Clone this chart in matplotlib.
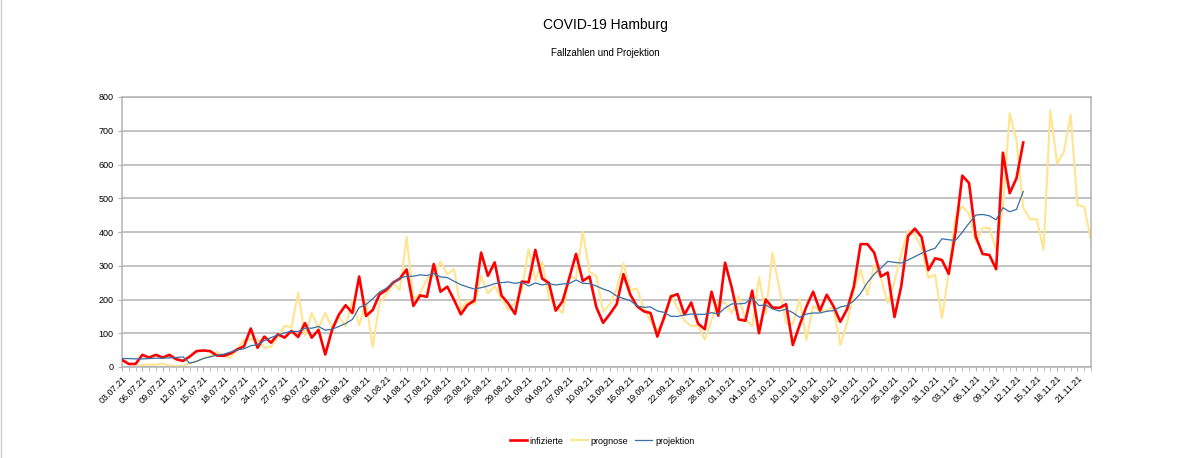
import numpy as np
import pandas as pd
import matplotlib
matplotlib.use("Agg")
from matplotlib import pyplot as plt

plt.rcParams['font.family'] = ['Liberation Sans', 'DejaVu Sans']

# Tage ab 03.07.21
dates = pd.date_range('2021-07-03', periods=144)
labels = [d.strftime('%d.%m.%y') for d in dates]

infizierte = [21, 9, 9, 36, 28, 36, 28, 36, 23, 18,
              31, 47, 49, 47, 34, 33, 40, 52, 61, 114,
              57, 90, 72, 97, 87, 107, 89, 130, 87, 110,
              37, 110, 155, 183, 160, 268, 151, 169, 215, 228,
              250, 262, 289, 181, 212, 208, 305, 223, 238, 199,
              156, 184, 197, 339, 270, 310, 212, 188, 157, 253,
              251, 347, 262, 249, 167, 194, 263, 335, 255, 268,
              177, 131, 157, 186, 275, 215, 180, 165, 160, 90,
              147, 209, 216, 155, 191, 129, 112, 223, 152, 309,
              234, 141, 137, 226, 100, 200, 176, 175, 186, 65,
              124, 179, 223, 167, 214, 180, 134, 171, 238, 364,
              364, 339, 268, 280, 148, 240, 388, 410, 385, 287,
              322, 317, 276, 400, 567, 545, 386, 335, 332, 290,
              635, 515, 559, 665]

prognose = [None, None, 0, 7, 7, 7, 10, 4, 3, 3,
            11, 16, 26, 33, 45, 33, 28, 52, 81, 82,
            82, 57, 60, 90, 122, 118, 221, 93, 160, 115,
            160, 116, 150, 120, 198, 124, 192, 60, 189, 215,
            248, 228, 386, 200, 218, 262, 272, 312, 275, 290,
            170, 197, 186, 269, 218, 240, 204, 168, 191, 228,
            349, 258, 312, 204, 180, 160, 266, 263, 401, 282,
            269, 164, 186, 232, 307, 228, 232, 174, 135, 110,
            139, 214, 174, 137, 122, 122, 81, 139, 194, 190,
            160, 210, 142, 121, 266, 157, 338, 233, 130, 127,
            201, 80, 181, 166, 168, 179, 65, 130, 228, 289,
            213, 303, 263, 190, 253, 337, 405, 392, 352, 264,
            274, 145, 280, 446, 476, 454, 371, 411, 412, 348,
            473, 752, 673, 472, 438, 438, 347, 761, 602, 638,
            747, 480, 475, 374]

projektion = [25, 25, 24, 24, 25, 26, 26, 27, 28, 30,
              11, 17, 25, 30, 35, 38, 44, 51, 54, 63,
              66, 78, 87, 95, 101, 106, 105, 115, 115, 120,
              109, 112, 120, 129, 141, 176, 185, 202, 222, 233,
              249, 263, 269, 269, 273, 271, 277, 267, 265, 254,
              244, 237, 231, 235, 240, 247, 250, 252, 248, 251,
              240, 249, 243, 247, 243, 246, 247, 258, 248, 247,
              240, 231, 224, 210, 203, 197, 181, 177, 178, 166,
              162, 150, 150, 154, 157, 156, 156, 161, 157, 175,
              187, 187, 189, 205, 182, 184, 172, 166, 171, 161,
              147, 157, 160, 160, 165, 167, 178, 182, 196, 218,
              250, 275, 293, 313, 310, 308, 317, 327, 337, 345,
              352, 380, 377, 375, 399, 426, 450, 452, 448, 436,
              472, 460, 467, 520]

x = np.arange(len(dates))
prog = np.array([np.nan if v is None else v for v in prognose], dtype=float)

fig = plt.figure(figsize=(12, 4.58), dpi=100)
ax = fig.add_axes([122/1200, 1-367/458, (1091-122)/1200, (367-97)/458])

grau = '#b3b3b3'
ax.plot(x[:len(infizierte)], infizierte, color='#ff0000', lw=1.9, label='infizierte', zorder=3)
ax.plot(x, prog, color='#ffe58f', lw=1.5, label='prognose', zorder=2)
ax.plot(x[:len(projektion)], projektion, color='#3a6ea5', lw=0.9, label='projektion', zorder=4)

ax.set_xlim(0, len(dates) - 1)
ax.set_ylim(0, 800)
ax.set_yticks(range(0, 801, 100))
ax.set_xticks(x[::3])
ax.set_xticks(x, minor=True)
ax.set_xticklabels(labels[::3], rotation=45, ha='right', rotation_mode='anchor', fontsize=6.5)
ax.tick_params(axis='y', labelsize=6.5, length=3, color=grau, pad=3)
ax.tick_params(axis='x', which='both', length=3, color=grau, pad=2)
ax.grid(axis='y', color=grau, lw=1.1)
ax.set_axisbelow(True)
for s in ax.spines.values():
    s.set_color(grau)
    s.set_linewidth(1.1)

fig.text(605/1200, 1-25/458, 'COVID-19 Hamburg', ha='center', va='center', fontsize=10)
fig.text(605/1200, 1-53/458, 'Fallzahlen und Projektion', ha='center', va='center', fontsize=7)

fig.legend(loc='center', bbox_to_anchor=(602/1200, 1-441/458), ncol=3, frameon=False,
           fontsize=6.5, handlelength=1.9, handletextpad=0.3, columnspacing=0.8)

fig.add_artist(plt.Line2D([0.0005, 0.0005], [0, 1], transform=fig.transFigure, color='#cccccc', lw=1))

fig.savefig('out.png', dpi=100)
